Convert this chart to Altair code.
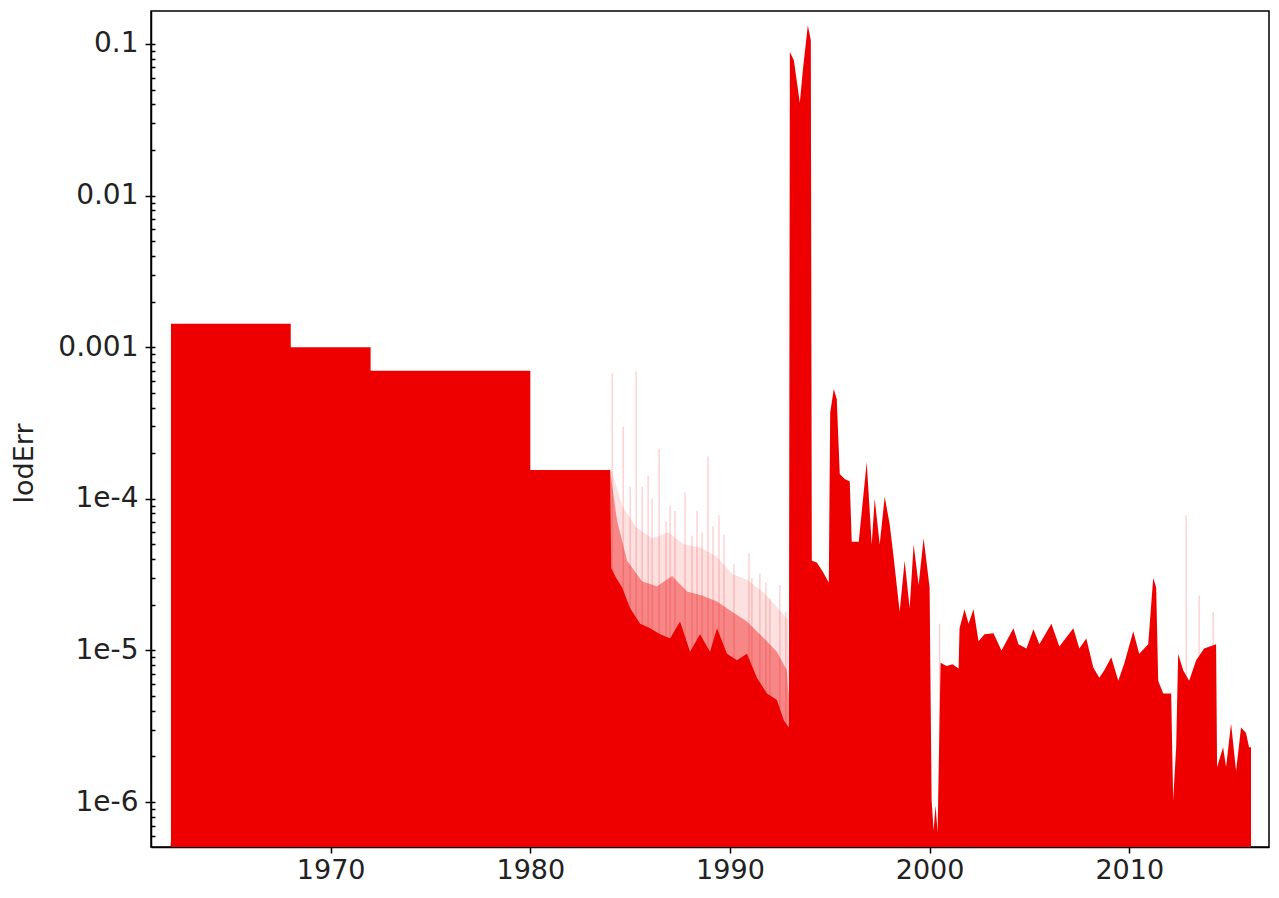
import altair as alt
import pandas as pd

RED = "#ee0000"

# Dense (solid) envelope of lodErr
solid_year = [1962.0, 1968.0, 1968.0, 1972.0, 1972.0, 1980.0, 1980.0, 1984.0,
              1984.05, 1984.3, 1984.6, 1985.0, 1985.5, 1986.0, 1986.5, 1987.0,
              1987.5, 1988.0, 1988.5, 1989.0, 1989.35, 1989.85, 1990.35, 1990.85,
              1991.35, 1991.85, 1992.35, 1992.7, 1992.95,
              1993.0, 1993.2, 1993.5, 1993.65, 1993.9, 1994.05,
              1994.1, 1994.35, 1994.65, 1994.95, 1995.02, 1995.2, 1995.35, 1995.5,
              1995.75, 1996.0, 1996.1, 1996.45, 1996.85, 1997.1, 1997.25, 1997.5,
              1997.75, 1998.0, 1998.2, 1998.5, 1998.75, 1999.0, 1999.2, 1999.45,
              1999.7, 2000.0, 2000.1, 2000.2, 2000.3, 2000.4, 2000.55, 2000.85,
              2001.15, 2001.45, 2001.5, 2001.75, 2001.95, 2002.2, 2002.45, 2002.75,
              2003.2, 2003.6, 2004.2, 2004.45, 2004.85, 2005.2, 2005.5, 2006.1,
              2006.5, 2007.2, 2007.5, 2007.85, 2008.2, 2008.5, 2008.75, 2009.1,
              2009.45, 2009.75, 2010.2, 2010.5, 2010.95, 2011.2, 2011.35, 2011.45,
              2011.7, 2012.1, 2012.2, 2012.35, 2012.45, 2012.7, 2013.0, 2013.35,
              2013.75, 2014.35, 2014.4, 2014.7, 2014.85, 2015.1, 2015.35, 2015.6,
              2015.85, 2016.0, 2016.1]
solid_val = [1.43e-3, 1.43e-3, 1.0e-3, 1.0e-3, 7.0e-4, 7.0e-4, 1.55e-4, 1.55e-4,
             3.5e-5, 3.0e-5, 2.6e-5, 1.9e-5, 1.5e-5, 1.4e-5, 1.28e-5, 1.2e-5,
             1.55e-5, 9.8e-6, 1.28e-5, 9.8e-6, 1.4e-5, 9.5e-6, 8.6e-6, 9.5e-6,
             6.6e-6, 5.2e-6, 4.7e-6, 3.45e-6, 3.1e-6,
             0.0885, 0.078, 0.041, 0.067, 0.133, 0.106,
             3.9e-5, 3.8e-5, 3.3e-5, 2.8e-5, 3.7e-4, 5.3e-4, 4.55e-4, 1.46e-4,
             1.35e-4, 1.3e-4, 5.2e-5, 5.2e-5, 1.75e-4, 5.0e-5, 1.0e-4, 5.0e-5,
             1.03e-4, 6.8e-5, 4.1e-5, 1.8e-5, 3.9e-5, 1.9e-5, 5.0e-5, 2.7e-5,
             5.5e-5, 2.6e-5, 1.03e-6, 6.5e-7, 9.5e-7, 6.3e-7, 8.3e-6, 7.9e-6,
             8.1e-6, 7.6e-6, 1.4e-5, 1.87e-5, 1.5e-5, 1.87e-5, 1.15e-5, 1.28e-5,
             1.3e-5, 1.0e-5, 1.4e-5, 1.1e-5, 1.03e-5, 1.38e-5, 1.1e-5, 1.5e-5,
             1.06e-5, 1.4e-5, 1.03e-5, 1.2e-5, 7.7e-6, 6.6e-6, 7.4e-6, 9.0e-6,
             6.3e-6, 8.2e-6, 1.34e-5, 9.5e-6, 1.1e-5, 3.0e-5, 2.6e-5, 6.3e-6,
             5.2e-6, 5.2e-6, 1.03e-6, 2.3e-6, 9.5e-6, 7.4e-6, 6.3e-6, 8.6e-6,
             1.03e-5, 1.1e-5, 1.7e-6, 2.3e-6, 1.7e-6, 3.3e-6, 1.6e-6, 3.1e-6,
             2.85e-6, 2.3e-6, 2.3e-6]

# Medium-pink haze just above the dense part, 1984-1993
haze_year = [1984.0, 1984.05, 1984.35, 1984.85, 1985.6, 1986.35, 1987.1, 1987.85,
             1988.6, 1989.35, 1990.1, 1990.85, 1991.6, 1992.35, 1992.85, 1992.95]
haze_val = [1.55e-4, 1.35e-4, 7.1e-5, 3.9e-5, 2.85e-5, 2.65e-5, 3.1e-5, 2.45e-5,
            2.3e-5, 2.1e-5, 1.8e-5, 1.55e-5, 1.24e-5, 9.8e-6, 7.4e-6, 4.7e-6]

# Light-pink haze further up, 1984-1993
light_year = [1984.0, 1984.1, 1984.6, 1985.3, 1986.1, 1986.9, 1987.7, 1988.5,
              1989.3, 1990.1, 1990.9, 1991.7, 1992.4, 1992.9, 1992.95]
light_val = [1.55e-4, 1.5e-4, 9.0e-5, 6.5e-5, 5.5e-5, 6.0e-5, 5.0e-5, 4.8e-5,
             4.2e-5, 3.2e-5, 2.9e-5, 2.4e-5, 1.9e-5, 1.6e-5, 6.0e-6]

# Faint isolated spikes
spike_year = [1984.1, 1984.65, 1985.0, 1985.3, 1985.6, 1985.9, 1986.1, 1986.45,
              1986.8, 1987.0, 1987.25, 1987.75, 1988.1, 1988.35, 1988.6, 1988.9,
              1989.15, 1989.45, 1989.7, 1990.2, 1990.95, 1991.1, 1991.5, 1991.8,
              1992.0, 1992.5, 1992.8, 2000.5, 2012.85, 2013.5, 2014.2]
spike_val = [6.7e-4, 3.0e-4, 1.2e-4, 6.9e-4, 1.2e-4, 1.42e-4, 1.0e-4, 2.14e-4,
             7.1e-5, 9.0e-5, 8.3e-5, 1.1e-4, 5.7e-5, 8.3e-5, 6.0e-5, 1.9e-4,
             6.6e-5, 7.8e-5, 5.8e-5, 3.7e-5, 4.4e-5, 3.0e-5, 3.2e-5, 2.8e-5,
             2.2e-5, 2.7e-5, 1.8e-5, 1.5e-5, 7.8e-5, 2.3e-5, 1.8e-5]

major_years = [1970, 1980, 1990, 2000, 2010]
minor_years = list(range(1962, 2017))
major_y = [1e-6, 1e-5, 1e-4, 1e-3, 1e-2, 1e-1]
decades = [1e-7, 1e-6, 1e-5, 1e-4, 1e-3, 1e-2, 1e-1]
Y_MIN, Y_MAX = 5.05e-7, 0.165
X_MIN, X_MAX = 1961, 2017
minor_y = [m * d for d in decades for m in range(1, 10) if Y_MIN <= m * d <= Y_MAX]

solid_df = pd.DataFrame({"year": solid_year, "lodErr": solid_val})
haze_df = pd.DataFrame({"year": haze_year, "lodErr": haze_val})
light_df = pd.DataFrame({"year": light_year, "lodErr": light_val})
spike_df = pd.DataFrame({"year": spike_year, "lodErr": spike_val})

xs = alt.Scale(domain=[X_MIN, X_MAX], nice=False, zero=False)
ys = alt.Scale(type="log", domain=[Y_MIN, Y_MAX], nice=False)

FONT = "DejaVu Sans"
TXT = "#222222"


def bare(df, mark):
    return alt.Chart(df).mark_area(color=RED, clip=True, **mark).encode(
        x=alt.X("year:Q", scale=xs, axis=None),
        y=alt.Y("lodErr:Q", scale=ys, axis=None),
        y2=alt.Y2Datum(Y_MIN),
    )


spikes = alt.Chart(spike_df).mark_rule(color=RED, opacity=0.2, strokeWidth=1.3, clip=True).encode(
    x=alt.X("year:Q", scale=xs, axis=None),
    y=alt.Y("lodErr:Q", scale=ys, axis=None),
    y2=alt.Y2Datum(Y_MIN),
)

light = bare(light_df, {"opacity": 0.12})
haze = bare(haze_df, {"opacity": 0.4})

solid = alt.Chart(solid_df).mark_area(color=RED, clip=True).encode(
    x=alt.X("year:Q", scale=xs, axis=alt.Axis(
        orient="bottom", values=major_years, format="d", title=None, grid=False,
        tickSize=6, tickWidth=1.5, tickColor="#000", domainColor="#000", domainWidth=1.5,
        labelFont=FONT, labelFontSize=27, labelColor=TXT, labelPadding=4)),
    y=alt.Y("lodErr:Q", scale=ys, axis=alt.Axis(
        orient="left", values=major_y, title="lodErr", grid=False,
        labelExpr="datum.value >= 0.001 ? '' + datum.value : '1e' + round(log(datum.value) / LN10)",
        tickSize=6, tickWidth=1.5, tickColor="#000", domainColor="#000", domainWidth=1.5,
        labelFont=FONT, labelFontSize=28, labelColor=TXT, labelPadding=7,
        titleFont=FONT, titleFontSize=27, titleFontWeight="normal", titleColor=TXT,
        titleAngle=270, titleAlign="center", titleBaseline="middle",
        titleX=-127, titleY=452)),
    y2=alt.Y2Datum(Y_MIN),
)

minor = alt.Chart(solid_df).mark_point(opacity=0).encode(
    x=alt.X("year:Q", scale=xs, axis=alt.Axis(
        orient="bottom", values=minor_years, labels=False, domain=False, title=None,
        grid=False, tickSize=5, tickWidth=1.5, tickColor="#000", offset=-5)),
    y=alt.Y("lodErr:Q", scale=ys, axis=alt.Axis(
        orient="left", values=minor_y, labels=False, domain=False, title=None,
        grid=False, tickSize=4, tickWidth=1.5, tickColor="#000", offset=-4)),
)

chart = alt.layer(spikes, light, haze, solid, minor).resolve_axis(
    x="independent", y="independent"
).properties(
    width=1118, height=836,
    padding={"left": 143, "top": 3, "right": 2, "bottom": 38},
    autosize=alt.AutoSizeParams(type="none"),
    background="white",
).configure_view(stroke="#000", strokeWidth=1.5)

chart.save("out.html", embed_options={"renderer": "svg", "actions": False})
